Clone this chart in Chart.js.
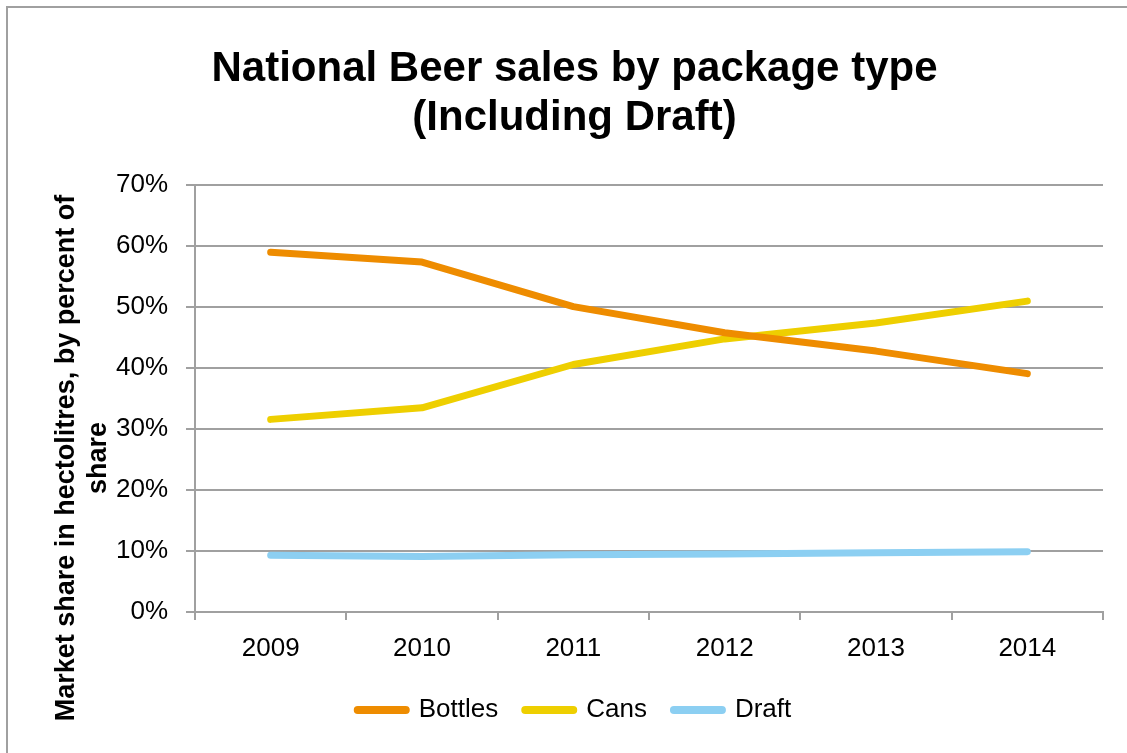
<!DOCTYPE html>
<html lang="en">
<head>
<meta charset="UTF-8">
<title>National Beer sales by package type</title>
<script src="https://cdn.jsdelivr.net/npm/chart.js@4.4.1/dist/chart.umd.min.js"></script>
<style>
  html, body { margin: 0; padding: 0; background: #fff; overflow: hidden; }
  #frame { position: absolute; left: 6px; top: 6px; width: 1200px; height: 800px; border: 2px solid #a0a0a0; }
  #wrap { position: absolute; left: 0; top: 0; width: 1127px; height: 753px; }
</style>
</head>
<body>
<div id="frame"></div>
<div id="wrap"><canvas id="chart" width="1127" height="753"></canvas></div>
<script>
// data (percent of market share)
const years = ['2009', '2010', '2011', '2012', '2013', '2014'];
const bottles = [59.0, 57.4, 50.1, 45.8, 42.8, 39.1];
const cans = [31.6, 33.5, 40.6, 44.8, 47.4, 51.0];
const draft = [9.3, 9.1, 9.4, 9.5, 9.7, 9.9];
const yTicks = [0, 10, 20, 30, 40, 50, 60, 70];

const font = 'Liberation Sans';
const grey = '#a0a0a0';

// y axis title is centred lower than the plot in the original, so draw it by hand
const yTitle = {
    id: 'yTitle',
    afterDraw(chart) {
        const ctx = chart.ctx;
        const cy = 458;
        ctx.save();
        ctx.fillStyle = '#000';
        ctx.font = 'bold 27px "' + font + '"';
        ctx.textAlign = 'center';
        ctx.textBaseline = 'alphabetic';
        ctx.translate(74, cy);
        ctx.rotate(-Math.PI / 2);
        ctx.fillText('Market share in hectolitres, by percent of', 0, 0);
        ctx.fillText('share', 0, 32);
        ctx.restore();
    }
};

function line(label, data, color) {
    return {
        label: label,
        data: data,
        borderColor: color,
        backgroundColor: color,
        borderWidth: 7,
        borderCapStyle: 'round',
        borderJoinStyle: 'round',
        pointRadius: 0,
        pointHoverRadius: 0,
        tension: 0
    };
}

new Chart(document.getElementById('chart'), {
    type: 'line',
    data: {
        labels: years,
        datasets: [
            line('Bottles', bottles, '#ee8c00'),
            line('Cans', cans, '#eecf00'),
            line('Draft', draft, '#8ccff2')
        ]
    },
    options: {
        responsive: false,
        animation: false,
        layout: { padding: { left: 46, right: 24, top: 0, bottom: 20 } },
        plugins: {
            tooltip: { enabled: false },
            title: {
                display: true,
                text: ['National Beer sales by package type', '(Including Draft)'],
                color: '#000',
                font: { family: font, size: 42, weight: 'bold', lineHeight: 1.17 },
                padding: { top: 45, bottom: 42 }
            },
            legend: {
                position: 'bottom',
                labels: {
                    color: '#000',
                    font: { family: font, size: 26 },
                    usePointStyle: true,
                    pointStyle: 'line',
                    pointStyleWidth: 48,
                    boxHeight: 8,
                    padding: 27,
                    generateLabels(chart) {
                        const items = Chart.defaults.plugins.legend.labels.generateLabels(chart);
                        items.forEach(it => { it.lineCap = 'round'; it.lineWidth = 8; });
                        return items;
                    }
                }
            }
        },
        scales: {
            x: {
                offset: true,
                afterFit(scale) { scale.height = 58; },
                grid: {
                    offset: true,
                    drawOnChartArea: false,
                    drawTicks: true,
                    tickLength: 8,
                    color: grey,
                    lineWidth: 2
                },
                border: { color: grey, width: 2 },
                ticks: {
                    color: '#000',
                    padding: 13,
                    font: { family: font, size: 26 }
                }
            },
            y: {
                min: 0,
                max: 70,
                afterFit(scale) { scale.width = 149; },
                afterBuildTicks(scale) { scale.ticks = yTicks.map(v => ({ value: v })); },
                grid: { color: grey, lineWidth: 2, tickLength: 9 },
                border: { color: grey, width: 2 },
                ticks: {
                    color: '#000',
                    padding: 18,
                    font: { family: font, size: 26 },
                    callback: v => v + '%'
                }
            }
        }
    },
    plugins: [yTitle]
});
</script>
</body>
</html>
